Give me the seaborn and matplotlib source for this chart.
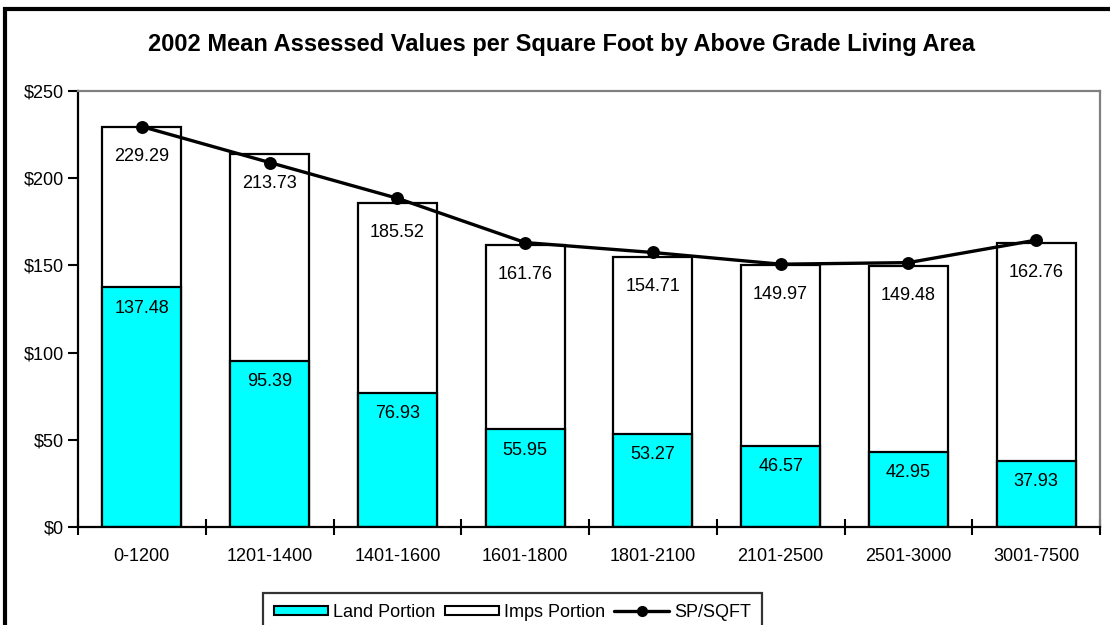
import pandas as pd
import seaborn as sns
import matplotlib.pyplot as plt
from matplotlib.lines import Line2D
from matplotlib.patches import Patch
from matplotlib.ticker import FuncFormatter, FixedLocator

# data
area_ranges = ["0-1200", "1201-1400", "1401-1600", "1601-1800",
               "1801-2100", "2101-2500", "2501-3000", "3001-7500"]
land_portion = [137.48, 95.39, 76.93, 55.95, 53.27, 46.57, 42.95, 37.93]
total_value = [229.29, 213.73, 185.52, 161.76, 154.71, 149.97, 149.48, 162.76]
sp_sqft = [229.6, 209.0, 188.5, 163.1, 157.4, 150.7, 151.6, 164.5]

df = pd.DataFrame({"area": area_ranges, "land": land_portion,
                   "total": total_value, "sp": sp_sqft})

sns.set_style("white")
plt.rcParams['font.family'] = ['Liberation Sans', 'DejaVu Sans']
plt.rcParams['text.color'] = 'black'
plt.rcParams['xtick.color'] = 'black'
plt.rcParams['ytick.color'] = 'black'
FONT_SIZE = 13

fig = plt.figure(figsize=(11.1, 6.25), dpi=100)
ax = fig.add_axes([78 / 1110, 98 / 625, 1022 / 1110, 436 / 625])

# total bar (imps portion on top), land drawn over it
sns.barplot(data=df, x="area", y="total", color="white", edgecolor="black",
            linewidth=1.6, width=0.62, saturation=1, ax=ax, zorder=2)
sns.barplot(data=df, x="area", y="land", color="#00FFFF", edgecolor="black",
            linewidth=1.6, width=0.62, saturation=1, ax=ax, zorder=3)
sns.pointplot(data=df, x="area", y="sp", color="black", markers="o",
              markersize=7.5, linewidth=2.4, ax=ax, zorder=5)

for i, row in df.iterrows():
    ax.annotate(f"{row.total:.2f}", (i, row.total), xytext=(0, -21),
                textcoords="offset points", ha="center", va="center",
                fontsize=FONT_SIZE, zorder=6)
    ax.annotate(f"{row.land:.2f}", (i, row.land), xytext=(0, -15),
                textcoords="offset points", ha="center", va="center",
                fontsize=FONT_SIZE, zorder=6)

ax.set_xlim(-0.5, len(area_ranges) - 0.5)
ax.set_ylim(0, 250)
ax.set_yticks(range(0, 251, 50))
ax.yaxis.set_major_formatter(FuncFormatter(lambda v, p: f"${v:.0f}"))
ax.xaxis.set_minor_locator(FixedLocator([i - 0.5 for i in range(len(area_ranges) + 1)]))
ax.tick_params(axis="x", which="major", length=0, pad=15, labelsize=FONT_SIZE)
ax.tick_params(axis="x", which="minor", direction="inout", length=12,
               width=1.5, color="black", bottom=True)
ax.tick_params(axis="y", direction="out", length=7, width=1.5,
               color="black", labelsize=FONT_SIZE, pad=3, left=True)
ax.set_xlabel("")
ax.set_ylabel("")
for side in ["left", "bottom"]:
    ax.spines[side].set_color("black")
    ax.spines[side].set_linewidth(1.6)
for side in ["top", "right"]:
    ax.spines[side].set_color("#808080")
    ax.spines[side].set_linewidth(1.6)
ax.spines["bottom"].set_zorder(4)

fig.text(0.506, 1 - 45 / 625,
         "2002 Mean Assessed Values per Square Foot by Above Grade Living Area",
         ha="center", va="center", fontsize=17, fontweight="bold")

handles = [Patch(facecolor="#00FFFF", edgecolor="black", linewidth=1.5),
           Patch(facecolor="white", edgecolor="black", linewidth=1.5),
           Line2D([], [], color="black", linewidth=2.4, marker="o", markersize=7)]
leg = fig.legend(handles, ["Land Portion", "Imps Portion", "SP/SQFT"],
                 loc="upper left", bbox_to_anchor=(263 / 1110, 1 - 593 / 625),
                 ncol=3, frameon=True, fancybox=False, fontsize=FONT_SIZE,
                 handlelength=3.0, handleheight=0.45, handletextpad=0.3,
                 columnspacing=0.5, borderpad=0.6, borderaxespad=0)
leg.get_frame().set_edgecolor("black")
leg.get_frame().set_linewidth(1.6)

# outer chart border (only left and top visible in the crop)
fig.add_artist(Line2D([4.7 / 1110, 4.7 / 1110, 1.02], [-0.02, 1 - 8.7 / 625, 1 - 8.7 / 625],
                      transform=fig.transFigure, color="black", linewidth=3,
                      solid_joinstyle="miter"))

fig.savefig("out.png", dpi=100)
